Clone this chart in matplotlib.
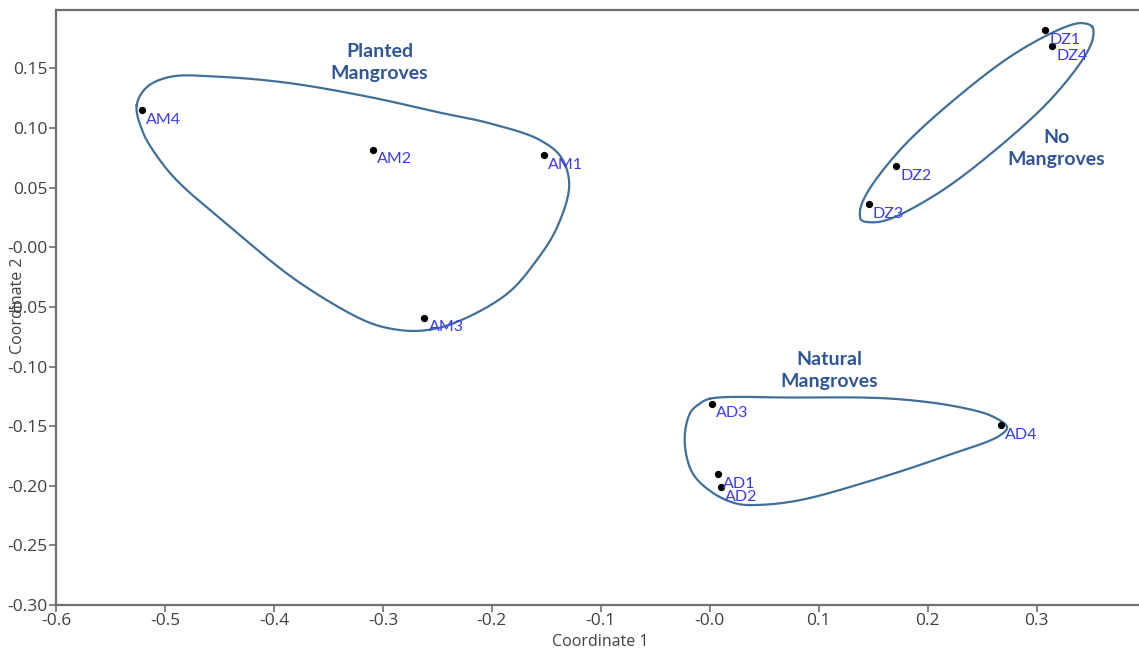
import numpy as np
import matplotlib
matplotlib.use("Agg")
import matplotlib.pyplot as plt

plt.rcParams["axes.unicode_minus"] = False
plt.rcParams["font.family"] = ["Open Sans", "DejaVu Sans"]

# NMDS coordinates of the sampling sites
sites = ["AM1", "AM2", "AM3", "AM4",
         "DZ1", "DZ2", "DZ3", "DZ4",
         "AD1", "AD2", "AD3", "AD4"]
coord1 = [-0.152, -0.309, -0.262, -0.521,
          0.308, 0.171, 0.146, 0.314,
          0.008, 0.010, 0.002, 0.267]
coord2 = [0.077, 0.082, -0.059, 0.115,
          0.182, 0.068, 0.036, 0.169,
          -0.190, -0.201, -0.131, -0.149]

# hand-drawn group outlines (vertices, smoothed below)
planted_x = [-0.526, -0.517, -0.495, -0.450, -0.388, -0.312, -0.248, -0.202,
             -0.156, -0.136, -0.129, -0.140, -0.159, -0.186, -0.236, -0.266,
             -0.294, -0.318, -0.379, -0.440, -0.489, -0.507, -0.520]
planted_y = [0.119, 0.134, 0.143, 0.143, 0.138, 0.126, 0.113, 0.104,
             0.090, 0.075, 0.052, 0.017, -0.011, -0.039, -0.064, -0.070,
             -0.068, -0.061, -0.028, 0.017, 0.056, 0.076, 0.096]

nomang_x = [0.351, 0.352, 0.346, 0.315, 0.264, 0.209, 0.163, 0.148,
            0.139, 0.138, 0.144, 0.175, 0.226, 0.281, 0.327, 0.342]
nomang_y = [0.185, 0.177, 0.163, 0.126, 0.083, 0.045, 0.023, 0.021,
            0.023, 0.031, 0.045, 0.082, 0.125, 0.163, 0.185, 0.188]

natural_x = [0.000, 0.076, 0.168, 0.229, 0.260, 0.273, 0.266, 0.220,
             0.147, 0.083, 0.046, 0.025, 0.003, -0.016, -0.023, -0.018, -0.009]
natural_y = [-0.127, -0.126, -0.127, -0.134, -0.142, -0.151, -0.158, -0.174,
             -0.196, -0.212, -0.216, -0.215, -0.206, -0.189, -0.162, -0.139, -0.131]

groups = ["Planted\nMangroves", "No\nMangroves", "Natural\nMangroves"]
group_x = [-0.303, 0.318, 0.110]
group_y = [0.155, 0.083, -0.103]


def closed_spline(xs, ys, n=30):
    # centripetal Catmull-Rom through a closed ring of vertices
    pts = np.column_stack([xs, ys])
    m = len(pts)
    segs = []
    for i in range(m):
        p0, p1, p2, p3 = pts[(i - 1) % m], pts[i], pts[(i + 1) % m], pts[(i + 2) % m]
        t0 = 0.0
        t1 = t0 + np.linalg.norm(p1 - p0) ** 0.5
        t2 = t1 + np.linalg.norm(p2 - p1) ** 0.5
        t3 = t2 + np.linalg.norm(p3 - p2) ** 0.5
        t = np.linspace(t1, t2, n, endpoint=False)[:, None]
        a1 = (t1 - t) / (t1 - t0) * p0 + (t - t0) / (t1 - t0) * p1
        a2 = (t2 - t) / (t2 - t1) * p1 + (t - t1) / (t2 - t1) * p2
        a3 = (t3 - t) / (t3 - t2) * p2 + (t - t2) / (t3 - t2) * p3
        b1 = (t2 - t) / (t2 - t0) * a1 + (t - t0) / (t2 - t0) * a2
        b2 = (t3 - t) / (t3 - t1) * a2 + (t - t1) / (t3 - t1) * a3
        segs.append((t2 - t) / (t2 - t1) * b1 + (t - t1) / (t2 - t1) * b2)
    curve = np.vstack(segs + [segs[0][:1]])
    return curve[:, 0], curve[:, 1]


fig = plt.figure(figsize=(11.39, 6.59), dpi=100)
ax = fig.add_axes([0.0492, 0.0819, 0.9508, 0.9029])

line_col = "#40709a"
for xs, ys in [(planted_x, planted_y), (nomang_x, nomang_y), (natural_x, natural_y)]:
    cx, cy = closed_spline(xs, ys)
    ax.plot(cx, cy, color=line_col, lw=1.6)

ax.scatter(coord1, coord2, s=18, color="black", zorder=3)
for name, x, y in zip(sites, coord1, coord2):
    ax.annotate(name, (x, y), xytext=(3, -7), textcoords="offset points",
                ha="left", va="center", color="#3a3af5", fontsize=11.5,
                family=["Lato", "DejaVu Sans"])

for label, x, y in zip(groups, group_x, group_y):
    ax.text(x, y, label, ha="center", va="center", color="#2f5597",
            fontsize=14, fontweight="bold", linespacing=1.35,
            family=["Lato", "DejaVu Sans"])

ax.set_xlim(-0.6, 0.394)
ax.set_ylim(-0.30, 0.199)
ax.set_xticks(np.arange(-0.6, 0.31, 0.1))
ax.set_yticks(np.arange(-0.30, 0.151, 0.05))
ax.set_xticklabels([f"{v:.1f}" for v in np.arange(-0.6, 0.31, 0.1)])
ax.set_yticklabels([f"{v:.2f}" for v in np.arange(-0.30, 0.151, 0.05)])

spine_col = "#6e6e6e"
for side in ["left", "bottom", "top"]:
    ax.spines[side].set_color(spine_col)
    ax.spines[side].set_linewidth(1.6)
ax.spines["right"].set_visible(False)
ax.tick_params(direction="out", length=5, width=1.2, color=spine_col,
               labelcolor="#404040", labelsize=12.5, pad=1)

fig.text(0.527, 0.014, "Coordinate 1", ha="center", va="bottom",
         color="#404040", fontsize=11.5)
fig.text(0.016, 0.536, "Coordinate 2", ha="center", va="center",
         rotation=90, color="#404040", fontsize=11.5)

fig.savefig("out.png", dpi=100)
